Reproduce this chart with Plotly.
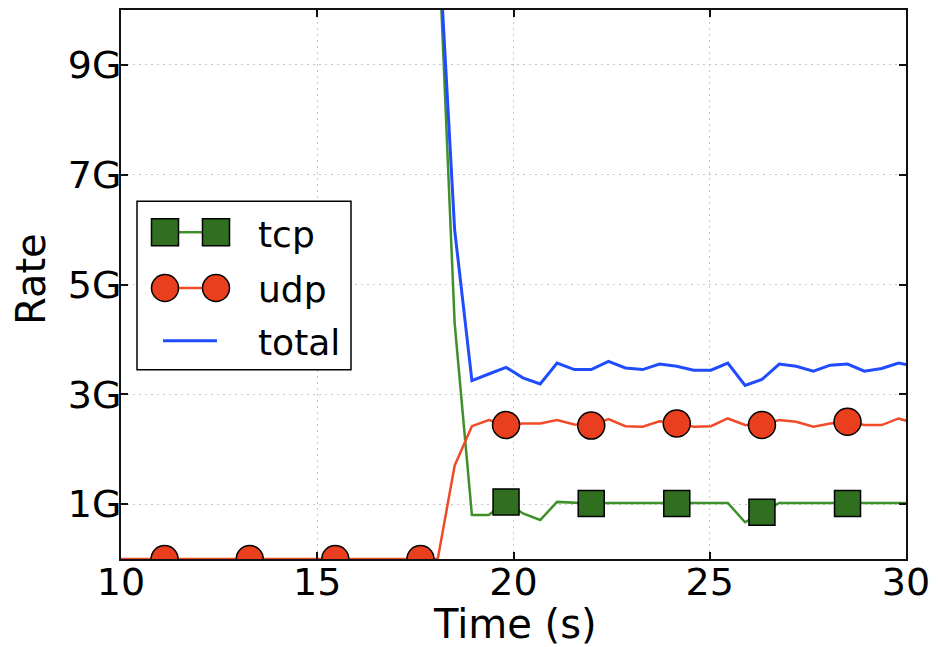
import plotly.graph_objects as go

# Sample times (s) and per-flow rates (Gbit/s)
time_s = [9.80, 10.24, 10.67, 11.11, 11.54, 11.98, 12.41, 12.85, 13.28, 13.72,
          14.15, 14.59, 15.02, 15.46, 15.89, 16.33, 16.76, 17.20, 17.63, 18.07,
          18.50, 18.94, 19.37, 19.81, 20.24, 20.68, 21.11, 21.55, 21.98, 22.42,
          22.85, 23.29, 23.72, 24.16, 24.59, 25.03, 25.46, 25.90, 26.33, 26.77,
          27.20, 27.64, 28.07, 28.51, 28.94, 29.38, 29.81, 30.25]

tcp = [11.6, 11.7, 11.6, 11.5, 11.6, 11.7, 11.6, 11.6, 11.5, 11.6,
       11.7, 11.6, 11.6, 11.5, 11.6, 11.7, 11.6, 11.6, 11.6, 11.6,
       4.30, 0.80, 0.80, 1.04, 0.83, 0.71, 1.04, 1.02, 1.01, 1.02,
       1.02, 1.02, 1.02, 1.01, 1.02, 1.02, 1.02, 0.67, 0.85, 1.02,
       1.02, 1.02, 1.02, 1.01, 1.02, 1.02, 1.02, 1.02]

udp = [0.0, 0.0, 0.0, 0.0, 0.0, 0.0, 0.0, 0.0, 0.0, 0.0,
       0.0, 0.0, 0.0, 0.0, 0.0, 0.0, 0.0, 0.0, 0.0, 0.0,
       1.70, 2.42, 2.53, 2.44, 2.47, 2.47, 2.53, 2.45, 2.43, 2.55,
       2.42, 2.41, 2.51, 2.47, 2.41, 2.42, 2.56, 2.44, 2.44, 2.53,
       2.50, 2.41, 2.47, 2.50, 2.44, 2.44, 2.56, 2.47]

total = [11.6, 11.7, 11.6, 11.5, 11.6, 11.7, 11.6, 11.6, 11.5, 11.6,
         11.7, 11.6, 11.6, 11.5, 11.6, 11.7, 11.6, 11.6, 11.6, 11.6,
         6.00, 3.25, 3.37, 3.49, 3.30, 3.19, 3.57, 3.45, 3.45, 3.60,
         3.48, 3.45, 3.55, 3.51, 3.44, 3.44, 3.57, 3.16, 3.27, 3.55,
         3.51, 3.42, 3.53, 3.55, 3.42, 3.47, 3.57, 3.51]

y_ticks = [1, 3, 5, 7, 9]
y_tick_text = ["1G", "3G", "5G", "7G", "9G"]
x_ticks = [10, 15, 20, 25, 30]

# markers are placed on every 5th sample
MARK_START, MARK_STEP = 3, 5
mark_idx = list(range(MARK_START, len(time_s), MARK_STEP))

GREEN_LINE = "#3f8f2b"
GREEN_FILL = "#2f6f1f"
RED_LINE = "#f04a28"
RED_FILL = "#ea3f1e"
BLUE_LINE = "#1f4cff"
FONT = "DejaVu Sans"

W, H = 939, 647
L, R, T, B = 121, 33, 8, 88
PW, PH = W - L - R, H - T - B


def px(x):
    return (x - L) / PW


def py(y):
    return (H - B - y) / PH


fig = go.Figure()

fig.add_trace(go.Scatter(x=time_s, y=tcp, mode="lines",
                         line=dict(color=GREEN_LINE, width=2.5), showlegend=False))
fig.add_trace(go.Scatter(x=time_s, y=udp, mode="lines",
                         line=dict(color=RED_LINE, width=2.5), showlegend=False))
fig.add_trace(go.Scatter(x=[time_s[i] for i in mark_idx], y=[tcp[i] for i in mark_idx],
                         mode="markers", showlegend=False,
                         marker=dict(symbol="square", size=26, color=GREEN_FILL,
                                     line=dict(color="black", width=1.5))))
fig.add_trace(go.Scatter(x=[time_s[i] for i in mark_idx], y=[udp[i] for i in mark_idx],
                         mode="markers", showlegend=False,
                         marker=dict(symbol="circle", size=27, color=RED_FILL,
                                     line=dict(color="black", width=1.5))))
fig.add_trace(go.Scatter(x=time_s, y=total, mode="lines",
                         line=dict(color=BLUE_LINE, width=3), showlegend=False))

# hand-built legend box with two markers per entry
shapes = [dict(type="rect", xref="paper", yref="paper",
               x0=px(137), x1=px(351), y0=py(369), y1=py(200),
               line=dict(color="black", width=1.5), fillcolor="white", layer="above")]
rows = [("tcp", 231), ("udp", 287), ("total", 340)]
shapes.append(dict(type="line", xref="paper", yref="paper", x0=px(165), x1=px(216),
                   y0=py(231), y1=py(231), line=dict(color=GREEN_LINE, width=2.5)))
for cx in (165, 216):
    shapes.append(dict(type="rect", xref="paper", yref="paper",
                       x0=px(cx - 13.5), x1=px(cx + 13.5), y0=py(231 + 13.5), y1=py(231 - 13.5),
                       fillcolor=GREEN_FILL, line=dict(color="black", width=1.5)))
shapes.append(dict(type="line", xref="paper", yref="paper", x0=px(165), x1=px(216),
                   y0=py(287), y1=py(287), line=dict(color=RED_LINE, width=2.5)))
for cx in (165, 216):
    shapes.append(dict(type="circle", xref="paper", yref="paper",
                       x0=px(cx - 13.5), x1=px(cx + 13.5), y0=py(287 + 13.5), y1=py(287 - 13.5),
                       fillcolor=RED_FILL, line=dict(color="black", width=1.5)))
shapes.append(dict(type="line", xref="paper", yref="paper", x0=px(163), x1=px(217),
                   y0=py(340), y1=py(340), line=dict(color=BLUE_LINE, width=3)))

annotations = []
for name, ry in rows:
    annotations.append(dict(text=name, xref="paper", yref="paper", x=px(256), y=py(ry + 2),
                            xanchor="left", yanchor="middle", showarrow=False,
                            font=dict(family=FONT, size=36, color="black")))
annotations.append(dict(text="Time (s)", xref="paper", yref="paper", x=px(515), y=py(624),
                        xanchor="center", yanchor="middle", showarrow=False,
                        font=dict(family=FONT, size=40, color="black")))
annotations.append(dict(text="Rate", xref="paper", yref="paper", x=px(31), y=py(278),
                        xanchor="center", yanchor="middle", showarrow=False, textangle=-90,
                        font=dict(family=FONT, size=40, color="black")))

axis_common = dict(showline=True, mirror="allticks", linecolor="#111111", linewidth=2,
                   ticks="inside", ticklen=7, tickwidth=2, tickcolor="#111111",
                   showgrid=True, gridcolor="#c6c6c6", gridwidth=1.3, griddash="2px,4px",
                   zeroline=False, tickfont=dict(family=FONT, size=38, color="black"))

fig.update_layout(
    width=W, height=H,
    margin=dict(l=L, r=R, t=T, b=B),
    paper_bgcolor="white", plot_bgcolor="white",
    xaxis=dict(range=[10, 30], tickvals=x_ticks, ticklabelstandoff=-12, **axis_common),
    yaxis=dict(range=[0, 10], tickvals=y_ticks, ticktext=y_tick_text,
               ticklabelstandoff=-10, **axis_common),
    shapes=shapes, annotations=annotations,
    showlegend=False,
)

fig.write_html("out.html")
